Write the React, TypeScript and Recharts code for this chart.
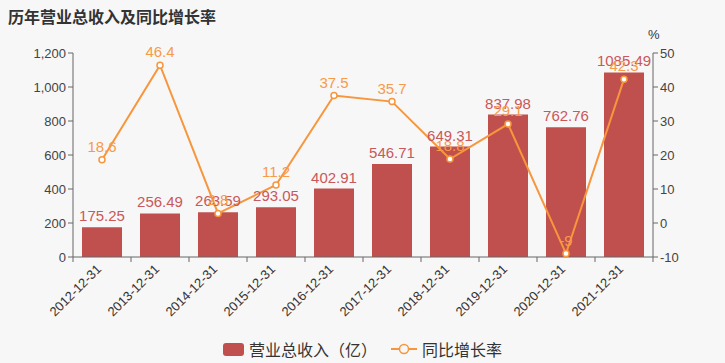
import React from 'react';
import { ComposedChart, Bar, Line, XAxis, YAxis, Legend, LabelList } from 'recharts';

const years = ['2012-12-31', '2013-12-31', '2014-12-31', '2015-12-31', '2016-12-31', '2017-12-31', '2018-12-31', '2019-12-31', '2020-12-31', '2021-12-31'];
const revenue = [175.25, 256.49, 263.59, 293.05, 402.91, 546.71, 649.31, 837.98, 762.76, 1085.49];
const growth = [18.6, 46.4, 2.8, 11.2, 37.5, 35.7, 18.8, 29.1, -9, 42.3];
const leftTicks = [0, 200, 400, 600, 800, 1000, 1200];
const rightTicks = [-10, 0, 10, 20, 30, 40, 50];

const data = years.map((year, i) => ({ year, revenue: revenue[i], growth: growth[i] }));

const W = 725;
const H = 363;
const LEFT_W = 73;
const RIGHT_W = 72;
const BAR_RED = '#c0504d';
const ORANGE = '#f7963c';
const AXIS = '#666';
const FONT = '"Liberation Sans", "Noto Sans CJK SC", sans-serif';
const halfBand = (W - LEFT_W - RIGHT_W) / years.length / 2;

const XTick = (props: any) => {
  const { x, y, payload, index } = props;
  return (
    <g>
      <line x1={x - halfBand} y1={y - 8} x2={x - halfBand} y2={y - 3} stroke={AXIS} />
      {index === years.length - 1 && (
        <line x1={x + halfBand} y1={y - 8} x2={x + halfBand} y2={y - 3} stroke={AXIS} />
      )}
      <text
        x={x}
        y={y + 5}
        transform={`rotate(-45, ${x}, ${y + 5})`}
        textAnchor="end"
        fontSize={13}
        fill="#333"
        fontFamily={FONT}
      >
        {payload.value}
      </text>
    </g>
  );
};

const LegendContent = () => (
  <div style={{ display: 'flex', justifyContent: 'center', alignItems: 'center', fontFamily: FONT, fontSize: 16, color: '#333', paddingTop: 10 }}>
    <span style={{ display: 'inline-block', width: 21, height: 13, background: BAR_RED, borderRadius: 3, marginRight: 5 }} />
    <span style={{ marginRight: 14 }}>营业总收入（亿）</span>
    <svg width={26} height={14} style={{ marginRight: 5 }}>
      <line x1={0} y1={7} x2={26} y2={7} stroke={ORANGE} strokeWidth={2} />
      <circle cx={13} cy={7} r={4.5} fill="#f7f7f7" stroke={ORANGE} strokeWidth={1.5} />
    </svg>
    <span>同比增长率</span>
  </div>
);

const App: React.FC = () => {
  return (
    <div style={{ position: 'absolute', left: 0, top: 0, width: W, height: H, background: '#f7f7f7', fontFamily: FONT }}>
      <div style={{ position: 'absolute', left: 8, top: 4, fontSize: 16, fontWeight: 'bold', color: '#333' }}>
        历年营业总收入及同比增长率
      </div>
      <div style={{ position: 'absolute', left: 648, top: 27, fontSize: 13, color: '#333' }}>%</div>
      <ComposedChart width={W} height={H} data={data} margin={{ top: 53, right: 0, left: 0, bottom: 0 }} barSize={40}>
        <XAxis
          dataKey="year"
          height={70}
          interval={0}
          stroke={AXIS}
          tickLine={false}
          tick={<XTick />}
        />
        <YAxis
          yAxisId="left"
          width={LEFT_W}
          domain={[0, 1200]}
          ticks={leftTicks}
          stroke={AXIS}
          tickSize={5}
          tick={{ fill: '#444', fontSize: 13, fontFamily: FONT }}
          tickFormatter={(v: number) => v.toLocaleString('en-US')}
        />
        <YAxis
          yAxisId="right"
          orientation="right"
          width={RIGHT_W}
          domain={[-10, 50]}
          ticks={rightTicks}
          stroke={AXIS}
          tickSize={5}
          tick={{ fill: '#444', fontSize: 13, fontFamily: FONT }}
        />
        <Legend verticalAlign="bottom" height={36} content={<LegendContent />} />
        <Bar yAxisId="left" dataKey="revenue" fill={BAR_RED} isAnimationActive={false}>
          <LabelList dataKey="revenue" position="top" offset={6} fill="#c9585a" fontSize={15} fontFamily={FONT} />
        </Bar>
        <Line
          yAxisId="right"
          dataKey="growth"
          stroke={ORANGE}
          strokeWidth={2}
          dot={{ r: 3, fill: '#fff', stroke: ORANGE, strokeWidth: 1.5 }}
          isAnimationActive={false}
        >
          <LabelList dataKey="growth" position="top" offset={8} fill="#f79a4a" fontSize={15} fontFamily={FONT} />
        </Line>
      </ComposedChart>
    </div>
  );
};

export default App;
